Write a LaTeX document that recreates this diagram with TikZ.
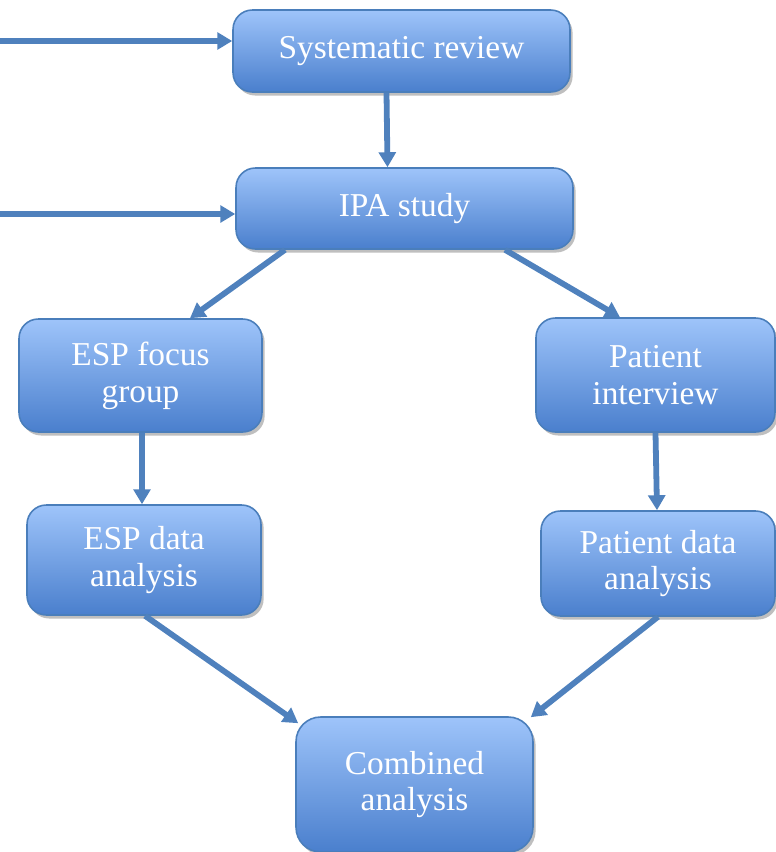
\documentclass[tikz,border=0pt]{standalone}
\usepackage{fontspec}
\setmainfont{Liberation Serif}
\usetikzlibrary{shapes}
\usetikzlibrary{positioning}
\usetikzlibrary{shadows}
\usetikzlibrary{arrows.meta}

\definecolor{boxtop}{HTML}{9EC4FA}
\definecolor{boxbottom}{HTML}{4A7FCD}
\definecolor{boxline}{HTML}{4A7EBB}
\definecolor{arrowblue}{HTML}{4F81BD}

\begin{document}
\begin{tikzpicture}[x=0.02cm,y=-0.02cm,->,>={Triangle[length=8.5pt,width=9.5pt]},line width=3.3pt,draw=arrowblue,
  main node/.style={rectangle,rounded corners=11pt,draw=boxline,line width=0.9pt,top color=boxtop,bottom color=boxbottom,
    text=white,align=center,inner sep=0pt,font=\fontsize{19}{21}\selectfont,
    drop shadow={shadow xshift=1.5pt,shadow yshift=-2pt,opacity=0.25,fill=black}}]

	      \useasboundingbox (0,0) rectangle (775,852);

	      \node[main node,minimum width=6.74cm,minimum height=1.64cm] at (401.5,51) (sr) {Systematic review};
	      \node[main node,minimum width=6.74cm,minimum height=1.62cm] at (404.5,208.5) (ipa) {IPA study};
	      \node[main node,minimum width=4.86cm,minimum height=2.26cm] at (140.5,375.5) (espfocus) {ESP focus\\group};
	      \node[main node,minimum width=4.78cm,minimum height=2.28cm] at (655.5,375) (patint) {Patient\\interview};
	      \node[main node,minimum width=4.68cm,minimum height=2.2cm] at (144,560) (espdata) {ESP data\\analysis};
	      \node[main node,minimum width=4.68cm,minimum height=2.1cm] at (658,563.5) (patdata) {Patient data\\analysis};
	      \node[main node,minimum width=4.74cm,minimum height=2.7cm,rounded corners=14pt] at (414.5,784.5) (comb) {Combined\\analysis};

	      \coordinate (srin) at (0,41);
	      \coordinate (ipain) at (0,214);

	      \path
	      (srin) edge (srin -| sr.west)
	      (ipain) edge (ipain -| ipa.west)
	      ([xshift=-0.3cm]sr.south) edge ([xshift=-0.34cm]ipa.north)
	      ([xshift=-2.39cm]ipa.south) edge ([xshift=0.99cm]espfocus.north)
	      ([xshift=2.01cm]ipa.south) edge ([xshift=-0.71cm]patint.north)
	      ([xshift=0.03cm]espfocus.south) edge ([xshift=-0.04cm]espdata.north)
	      (patint.south) edge ([xshift=-0.02cm]patdata.north)
	      ([xshift=0.02cm]espdata.south) edge ([shift={(0.06cm,-0.14cm)}]comb.north west)
	      (patdata.south) edge ([shift={(-0.06cm,-0.02cm)}]comb.north east)
	      ;

	    \end{tikzpicture}
\end{document}
